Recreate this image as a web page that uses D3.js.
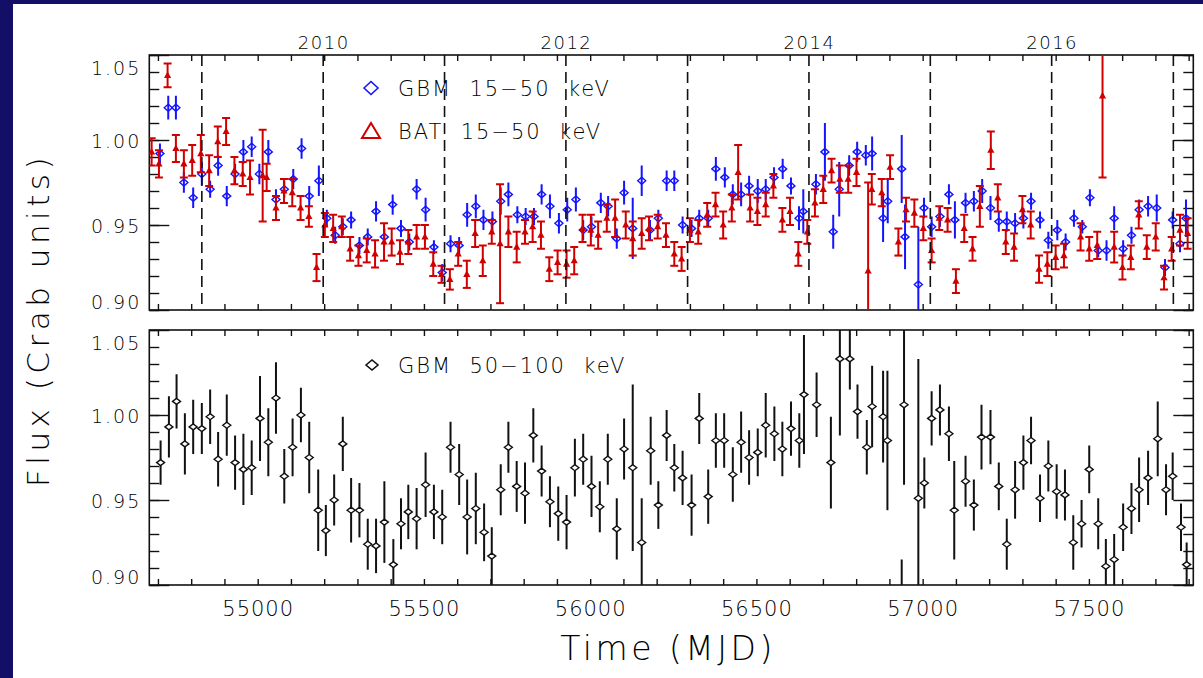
<!DOCTYPE html>
<html>
<head>
<meta charset="utf-8">
<script src="https://cdn.jsdelivr.net/npm/d3@7"></script>
<style>
  html, body { margin: 0; padding: 0; background: #140f66; }
  svg { display: block; }
  text { font-family: "DejaVu Sans", "Liberation Sans", sans-serif; font-weight: 200; fill: #000; }
</style>
</head>
<body>
<svg id="chart" width="1203" height="678"></svg>
<script>
// ---- data ----
// GBM 15-50 keV (blue)
const gbmLoTime = [54706,54731,54754,54778,54806,54832,54857,54881,54907,54932,54957,54982,55005,55032,55055,55080,55107,55132,55155,55184,55208,55233,55256,55281,55306,55331,55356,55381,55406,55431,55456,55478,55505,55530,55555,55580,55606,55630,55656,55679,55706,55731,55754,55781,55806,55831,55854,55879,55906,55931,55957,55979,56004,56032,56054,56080,56102,56128,56155,56180,56205,56230,56253,56278,56305,56328,56355,56378,56405,56429,56454,56478,56504,56528,56553,56579,56604,56628,56641,56679,56706,56731,56749,56779,56803,56829,56848,56881,56895,56937,56947,56987,57004,57027,57052,57079,57097,57129,57154,57179,57204,57229,57253,57278,57303,57326,57353,57378,57405,57430,57455,57480,57503,57528,57553,57576,57603,57628,57651,57678,57704,57729,57752,57774,57792];
const gbmLoFlux = [0.992,1.019,1.019,0.975,0.966,0.980,0.971,0.985,0.967,0.980,0.993,0.996,0.980,0.993,0.965,0.971,0.977,0.995,0.967,0.976,0.954,0.944,0.949,0.953,0.938,0.943,0.958,0.943,0.962,0.948,0.940,0.971,0.959,0.937,0.922,0.939,0.938,0.956,0.961,0.953,0.952,0.964,0.968,0.956,0.955,0.955,0.968,0.961,0.951,0.959,0.965,0.947,0.949,0.963,0.961,0.942,0.969,0.948,0.976,0.947,0.954,0.976,0.976,0.950,0.948,0.954,0.954,0.983,0.978,0.968,0.968,0.973,0.970,0.971,0.978,0.983,0.973,0.954,0.958,0.974,0.993,0.946,0.971,0.985,0.993,0.991,0.992,0.954,0.964,0.983,0.943,0.915,0.960,0.949,0.955,0.968,0.953,0.963,0.964,0.970,0.960,0.952,0.952,0.951,0.954,0.964,0.953,0.941,0.947,0.940,0.954,0.949,0.966,0.935,0.935,0.954,0.936,0.944,0.959,0.961,0.960,0.925,0.953,0.939,0.954];
const gbmLoErr = [0.006,0.007,0.007,0.006,0.006,0.007,0.005,0.006,0.006,0.006,0.007,0.006,0.006,0.007,0.006,0.005,0.006,0.006,0.006,0.009,0.005,0.005,0.005,0.005,0.005,0.005,0.006,0.005,0.006,0.005,0.005,0.006,0.007,0.004,0.005,0.005,0.005,0.007,0.007,0.006,0.006,0.008,0.007,0.005,0.005,0.005,0.006,0.007,0.006,0.007,0.007,0.006,0.006,0.006,0.006,0.006,0.007,0.018,0.009,0.006,0.005,0.006,0.006,0.005,0.005,0.005,0.005,0.007,0.006,0.006,0.007,0.006,0.007,0.006,0.006,0.006,0.005,0.007,0.013,0.006,0.017,0.010,0.016,0.006,0.006,0.006,0.010,0.014,0.013,0.020,0.019,0.034,0.006,0.006,0.006,0.006,0.011,0.006,0.006,0.007,0.007,0.006,0.006,0.006,0.006,0.005,0.005,0.005,0.006,0.005,0.005,0.004,0.005,0.004,0.006,0.007,0.005,0.005,0.006,0.006,0.008,0.005,0.005,0.005,0.011];

// BAT 15-50 keV (red)
const batTime = [54681,54703,54729,54754,54778,54803,54829,54854,54880,54905,54930,54955,54977,55015,55027,55055,55079,55104,55129,55154,55177,55202,55227,55253,55278,55303,55328,55353,55380,55403,55428,55453,55478,55503,55528,55553,55578,55603,55629,55654,55677,55704,55729,55754,55779,55804,55827,55852,55877,55902,55929,55952,55977,56002,56024,56050,56075,56107,56128,56155,56177,56203,56228,56253,56275,56300,56325,56352,56377,56400,56426,56445,56481,56503,56528,56551,56578,56601,56626,56653,56676,56701,56726,56751,56776,56801,56836,56847,56877,56902,56927,56950,56975,57002,57027,57050,57075,57100,57125,57150,57172,57205,57226,57250,57275,57300,57325,57350,57375,57400,57425,57475,57501,57525,57541,57576,57601,57626,57650,57674,57701,57726,57749,57774,57797];
const batFlux = [0.993,0.986,1.038,0.995,0.986,0.988,0.992,0.982,0.999,1.005,0.982,0.980,0.978,0.979,0.978,0.960,0.970,0.969,0.960,0.955,0.925,0.950,0.948,0.949,0.936,0.932,0.935,0.933,0.940,0.940,0.934,0.940,0.943,0.943,0.927,0.921,0.918,0.933,0.921,0.945,0.929,0.946,0.939,0.946,0.937,0.946,0.949,0.944,0.924,0.928,0.927,0.929,0.948,0.947,0.944,0.954,0.954,0.950,0.942,0.945,0.948,0.949,0.944,0.933,0.930,0.947,0.946,0.956,0.962,0.950,0.960,0.981,0.960,0.958,0.962,0.973,0.953,0.958,0.933,0.946,0.963,0.971,0.982,0.977,0.977,0.981,0.923,0.971,0.969,0.984,0.940,0.959,0.957,0.948,0.935,0.954,0.953,0.917,0.948,0.936,0.961,0.994,0.966,0.940,0.937,0.959,0.950,0.924,0.927,0.931,0.932,0.943,0.936,0.938,1.026,0.937,0.925,0.931,0.956,0.937,0.943,0.919,0.936,0.947,0.945];
const batErr = [0.008,0.008,0.007,0.008,0.008,0.009,0.011,0.009,0.009,0.008,0.008,0.007,0.010,0.027,0.008,0.007,0.007,0.008,0.007,0.006,0.008,0.007,0.008,0.006,0.007,0.006,0.007,0.008,0.011,0.008,0.007,0.007,0.007,0.007,0.007,0.005,0.006,0.007,0.008,0.008,0.009,0.007,0.035,0.009,0.009,0.007,0.009,0.008,0.007,0.007,0.008,0.008,0.008,0.009,0.008,0.008,0.011,0.008,0.010,0.009,0.007,0.007,0.007,0.007,0.007,0.007,0.007,0.007,0.007,0.008,0.008,0.016,0.008,0.008,0.007,0.007,0.007,0.008,0.007,0.007,0.008,0.008,0.007,0.008,0.008,0.008,0.052,0.009,0.008,0.007,0.008,0.007,0.008,0.007,0.007,0.007,0.007,0.007,0.008,0.007,0.012,0.011,0.008,0.007,0.008,0.008,0.008,0.008,0.007,0.007,0.007,0.008,0.007,0.008,0.048,0.009,0.007,0.007,0.008,0.007,0.008,0.007,0.007,0.009,0.009];

// GBM 50-100 keV (black)
const gbmHiTime = [54708,54733,54756,54781,54806,54832,54857,54881,54907,54932,54957,54982,55007,55032,55055,55080,55105,55130,55155,55182,55205,55230,55256,55281,55306,55331,55356,55381,55408,55431,55453,55478,55505,55530,55555,55580,55606,55630,55656,55681,55704,55731,55754,55779,55804,55829,55854,55879,55904,55929,55954,55979,56004,56029,56053,56080,56102,56128,56155,56182,56205,56230,56253,56278,56305,56328,56355,56378,56403,56429,56454,56478,56504,56528,56554,56578,56604,56629,56643,56681,56724,56751,56781,56804,56832,56848,56881,56894,56937,56944,56987,57005,57027,57052,57079,57095,57129,57154,57177,57204,57229,57253,57278,57303,57326,57353,57378,57403,57428,57453,57478,57501,57528,57551,57576,57603,57628,57651,57678,57707,57732,57752,57777,57794];
const gbmHiFlux = [0.972,0.993,1.008,0.983,0.993,0.992,0.999,0.974,0.994,0.972,0.968,0.969,0.998,0.984,1.010,0.964,0.981,1.000,0.975,0.944,0.932,0.950,0.983,0.944,0.944,0.924,0.923,0.937,0.912,0.936,0.943,0.939,0.959,0.943,0.940,0.981,0.965,0.940,0.945,0.931,0.917,0.956,0.981,0.958,0.954,0.988,0.967,0.949,0.942,0.937,0.969,0.974,0.958,0.946,0.974,0.933,0.980,0.969,0.925,0.979,0.947,0.988,0.969,0.963,0.947,0.998,0.952,0.985,0.985,0.965,0.984,0.975,0.978,0.994,0.989,0.980,0.992,0.985,1.012,1.006,0.972,1.033,1.033,1.002,0.981,1.005,0.999,0.985,0.889,1.006,0.951,0.960,0.998,1.003,0.989,0.944,0.961,0.947,0.987,0.987,0.958,0.924,0.956,0.972,0.985,0.951,0.970,0.955,0.953,0.925,0.936,0.968,0.936,0.911,0.915,0.934,0.945,0.956,0.963,0.986,0.956,0.964,0.934,0.912];
const gbmHiErr = [0.013,0.018,0.016,0.018,0.016,0.015,0.016,0.016,0.018,0.016,0.021,0.016,0.025,0.020,0.021,0.016,0.017,0.016,0.021,0.024,0.015,0.015,0.016,0.019,0.016,0.015,0.016,0.024,0.015,0.015,0.016,0.018,0.019,0.016,0.016,0.015,0.018,0.022,0.021,0.017,0.017,0.015,0.015,0.015,0.018,0.016,0.015,0.015,0.016,0.016,0.017,0.015,0.018,0.015,0.015,0.018,0.018,0.049,0.026,0.020,0.014,0.015,0.014,0.016,0.018,0.015,0.016,0.016,0.016,0.016,0.018,0.016,0.014,0.019,0.016,0.016,0.016,0.016,0.035,0.019,0.027,0.045,0.018,0.016,0.016,0.024,0.027,0.041,0.026,0.047,0.082,0.015,0.016,0.015,0.016,0.029,0.015,0.015,0.019,0.016,0.014,0.015,0.017,0.016,0.014,0.014,0.015,0.016,0.015,0.016,0.014,0.014,0.015,0.016,0.015,0.014,0.015,0.019,0.016,0.022,0.015,0.014,0.014,0.013];

// axis ticks / labels
const mjdTicks = ["55000","55500","56000","56500","57000","57500"];
const yearLabels = ["2010","2012","2014","2016"];
const yearMjd = [55197, 55927, 56658, 57388];
const jan1Mjd = [54832, 55197, 55562, 55927, 56293, 56658, 57023, 57388, 57754];
const fluxMajor = [0.90, 0.95, 1.00, 1.05];

// ---- layout ----
const svg = d3.select("#chart");
const W = 1203, H = 678;
svg.append("rect").attr("width", W).attr("height", H).attr("fill", "#140f66");
svg.append("rect").attr("x", 13).attr("y", 4).attr("width", W - 13).attr("height", H - 4).attr("fill", "#fff");

const x = d3.scaleLinear().domain([54674, 57814]).range([149.3, 1193.3]);
const panels = [
  { top: 55, bottom: 310, id: "clipTop" },
  { top: 330, bottom: 585, id: "clipBot" }
];
panels.forEach(p => {
  p.y = d3.scaleLinear().domain([0.90, 1.05]).range([p.bottom, p.top]);
  svg.append("clipPath").attr("id", p.id).append("rect")
    .attr("x", x.range()[0]).attr("y", p.top)
    .attr("width", x.range()[1] - x.range()[0]).attr("height", p.bottom - p.top);
});
const [pTop, pBot] = panels;

const blue = "#1414ff", red = "#d00000", ink = "#111";

function zip(t, f, e) { return t.map((d, i) => ({ t: d, f: f[i], e: e[i] })); }
const diamond = (w, h) => `M${-w},0L0,${-h}L${w},0L0,${h}Z`;

// ---- axes for each panel ----
const minorY = d3.range(0.90, 1.0501, 0.01);
const minorX = d3.range(54700, 57801, 100);

panels.forEach((p, i) => {
  const g = svg.append("g").attr("class", "axes");
  // y minor + major, left and right (inward)
  g.append("g").attr("transform", `translate(${x.range()[0]},0)`)
    .call(d3.axisLeft(p.y).tickValues(minorY).tickSize(-10).tickFormat(""));
  g.append("g").attr("transform", `translate(${x.range()[1]},0)`)
    .call(d3.axisRight(p.y).tickValues(minorY).tickSize(-10).tickFormat(""));
  g.append("g").attr("transform", `translate(${x.range()[1]},0)`)
    .call(d3.axisRight(p.y).tickValues(fluxMajor).tickSize(-20).tickFormat(""));
  const yl = g.append("g").attr("class", "ylab").attr("transform", `translate(${x.range()[0]},0)`)
    .call(d3.axisLeft(p.y).tickValues(fluxMajor).tickSize(-20).tickPadding(8).tickFormat(d3.format(".2f")));
  yl.selectAll("text").style("font-size", "19px").attr("letter-spacing", "2")
    .attr("dy", d => d === 1.05 ? "1.0em" : d === 0.90 ? "-0.1em" : "0.4em");
  // x ticks bottom and top (inward)
  g.append("g").attr("transform", `translate(0,${p.bottom})`)
    .call(d3.axisBottom(x).tickValues(minorX).tickSize(-6).tickFormat(""));
  g.append("g").attr("transform", `translate(0,${p.top})`)
    .call(d3.axisTop(x).tickValues(minorX).tickSize(-6).tickFormat(""));
  g.selectAll(".domain").remove();
  g.selectAll("line").attr("stroke", ink).attr("stroke-width", 1.4);
  // frame
  svg.append("rect").attr("x", x.range()[0]).attr("y", p.top)
    .attr("width", x.range()[1] - x.range()[0]).attr("height", p.bottom - p.top)
    .attr("fill", "none").attr("stroke", ink).attr("stroke-width", 1.6);
});

// MJD labels under bottom panel
const xl = svg.append("g").attr("transform", `translate(0,${pBot.bottom})`)
  .call(d3.axisBottom(x).tickValues(mjdTicks.map(Number)).tickSize(0).tickPadding(16).tickFormat(d3.format("d")));
xl.select(".domain").remove();
xl.selectAll("text").style("font-size", "21px").attr("letter-spacing", "1");

// year labels above top panel
const yr = svg.append("g").attr("transform", `translate(0,${pTop.top})`)
  .call(d3.axisTop(x).tickValues(yearMjd).tickSize(0).tickPadding(6).tickFormat((d, i) => yearLabels[i]));
yr.select(".domain").remove();
yr.selectAll("text").style("font-size", "18px").attr("letter-spacing", "1.5");

// ---- top panel data ----
const gTop = svg.append("g").attr("clip-path", "url(#clipTop)");
const blueData = zip(gbmLoTime, gbmLoFlux, gbmLoErr);
const redData = zip(batTime, batFlux, batErr);

gTop.selectAll(".blue-err").data(blueData).join("line")
  .attr("x1", d => x(d.t)).attr("x2", d => x(d.t))
  .attr("y1", d => pTop.y(d.f - d.e)).attr("y2", d => pTop.y(d.f + d.e))
  .attr("stroke", blue).attr("stroke-width", 2);
gTop.selectAll(".blue-pt").data(blueData).join("path")
  .attr("d", diamond(4, 3.5)).attr("transform", d => `translate(${x(d.t)},${pTop.y(d.f)})`)
  .attr("fill", "none").attr("stroke", blue).attr("stroke-width", 1.4);

const redG = gTop.selectAll(".red").data(redData).join("g")
  .attr("transform", d => `translate(${x(d.t)},0)`);
redG.append("line").attr("y1", d => pTop.y(d.f - d.e)).attr("y2", d => pTop.y(d.f + d.e))
  .attr("stroke", red).attr("stroke-width", 2);
redG.append("line").attr("x1", -4).attr("x2", 4)
  .attr("y1", d => pTop.y(d.f + d.e)).attr("y2", d => pTop.y(d.f + d.e))
  .attr("stroke", red).attr("stroke-width", 2);
redG.append("line").attr("x1", -4).attr("x2", 4)
  .attr("y1", d => pTop.y(d.f - d.e)).attr("y2", d => pTop.y(d.f - d.e))
  .attr("stroke", red).attr("stroke-width", 2);
redG.append("path").attr("d", "M0,-4L3.6,2.6L-3.6,2.6Z")
  .attr("transform", d => `translate(0,${pTop.y(d.f)})`).attr("fill", red);

// year boundaries (dashed)
svg.append("g").selectAll("line").data(jan1Mjd).join("line")
  .attr("x1", d => x(d)).attr("x2", d => x(d))
  .attr("y1", pTop.top).attr("y2", pTop.bottom)
  .attr("stroke", ink).attr("stroke-width", 1.6).attr("stroke-dasharray", "11,6");

// ---- bottom panel data ----
const gBot = svg.append("g").attr("clip-path", "url(#clipBot)");
const blackData = zip(gbmHiTime, gbmHiFlux, gbmHiErr);
gBot.selectAll(".k-err").data(blackData).join("line")
  .attr("x1", d => x(d.t)).attr("x2", d => x(d.t))
  .attr("y1", d => pBot.y(d.f - d.e)).attr("y2", d => pBot.y(d.f + d.e))
  .attr("stroke", ink).attr("stroke-width", 2);
gBot.selectAll(".k-pt").data(blackData).join("path")
  .attr("d", diamond(4, 3)).attr("transform", d => `translate(${x(d.t)},${pBot.y(d.f)})`)
  .attr("fill", "#fff").attr("stroke", ink).attr("stroke-width", 1.4);

// ---- legends ----
const legend = [
  { px: 371, py: 88, label: "GBM  15\u221250  keV", color: blue, shape: "diamond" },
  { px: 371, py: 131, label: "BAT  15\u221250  keV", color: red, shape: "triangle" },
  { px: 372, py: 365, label: "GBM  50\u2212100  keV", color: ink, shape: "diamondSmall" }
];
legend.forEach(l => {
  const d = l.shape === "diamond" ? diamond(7, 6.5)
    : l.shape === "triangle" ? "M0,-8L9,7L-9,7Z" : diamond(6, 5);
  svg.append("path").attr("d", d).attr("transform", `translate(${l.px},${l.py})`)
    .attr("fill", "none").attr("stroke", l.color).attr("stroke-width", l.shape === "triangle" ? 2 : 1.6);
  svg.append("text").attr("x", 398).attr("y", l.py).attr("dy", "0.36em")
    .style("font-size", "21px").style("white-space", "pre").attr("letter-spacing", "2")
    .text(l.label);
});

// ---- axis titles ----
svg.append("text").attr("transform", "translate(38,320) rotate(-90)")
  .attr("text-anchor", "middle").attr("dy", "0.36em")
  .style("font-size", "31px").attr("letter-spacing", "4.5")
  .text("Flux (Crab units)");
svg.append("text").attr("x", 668).attr("y", 648)
  .attr("text-anchor", "middle").attr("dy", "0.36em")
  .style("font-size", "33px").attr("letter-spacing", "3.5")
  .text("Time (MJD)");
</script>
</body>
</html>
